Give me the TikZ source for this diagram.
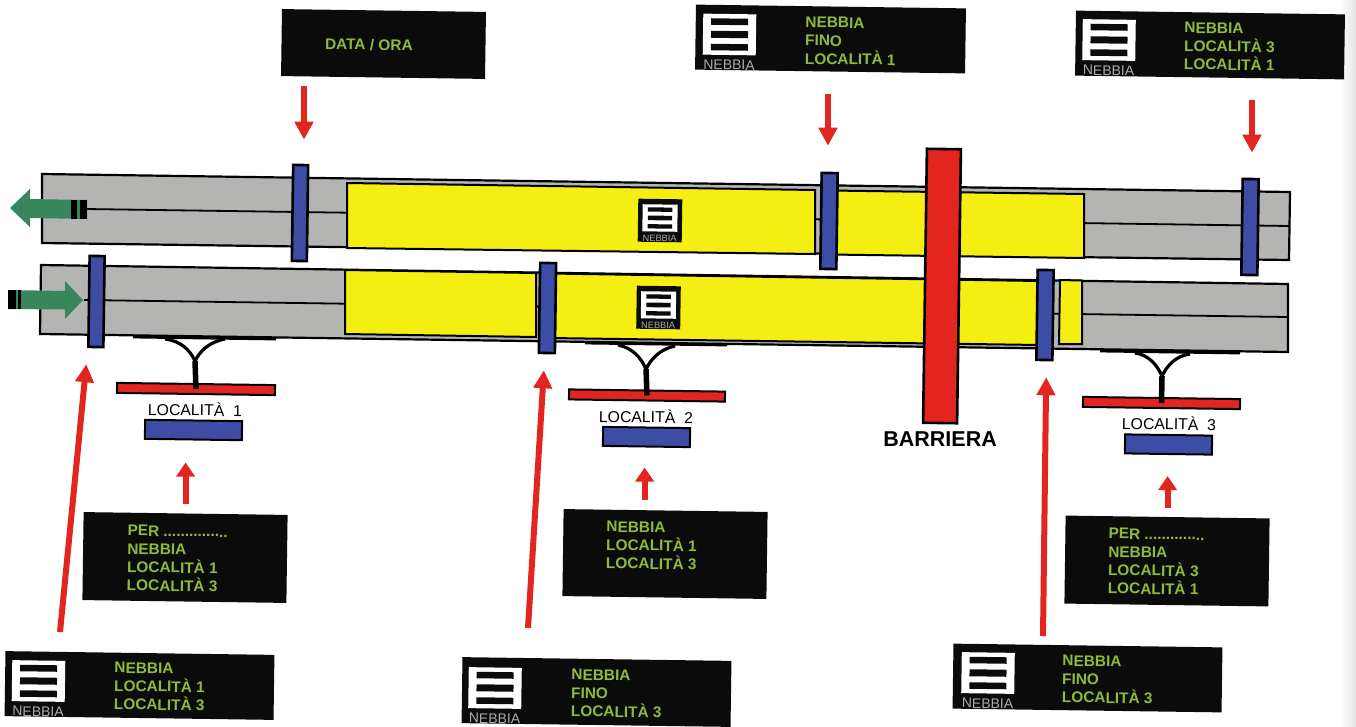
\documentclass[tikz,border=0pt]{standalone}
\usepackage{fontspec}
\setmainfont{Liberation Sans}
\usepackage{xcolor}
\usepackage{tikz}
\usetikzlibrary{arrows.meta,positioning}
\definecolor{roadgray}{HTML}{B4B4B2}
\definecolor{fogyellow}{HTML}{F4EE12}
\definecolor{gantryblue}{HTML}{3D4DA6}
\definecolor{signred}{HTML}{E2251E}
\definecolor{arrowgreen}{HTML}{38875C}
\definecolor{ledgreen}{HTML}{8FBB3C}
\definecolor{panelblack}{HTML}{0B0B0B}

\tikzset{
  fogsign/.pic={
    \fill[white] (-26.5,-20.5) rectangle (26.5,20.5);
    \fill[panelblack] (-18.5,-16) rectangle (18.5,-9.5);
    \fill[panelblack] (-18.5,-3.5) rectangle (18.5,3.5);
    \fill[panelblack] (-18.5,9.5) rectangle (18.5,16);
    \node[text=gray!65, font=\fontsize{14}{14}\selectfont, inner sep=0pt] at (0,30.5) {NEBBIA};
  }
}

\begin{document}
\begin{tikzpicture}[
  x=1pt, y=-1pt,
  road/.style={draw=black, line width=2.2pt, fill=roadgray, line join=miter},
  midline/.style={draw=black, line width=1.8pt},
  fogzone/.style={draw=black, line width=2pt, fill=fogyellow},
  gantry/.style={draw=black, line width=2.6pt, fill=gantryblue, rotate=-.8, inner sep=0pt},
  barrier/.style={draw=black, line width=2.6pt, fill=signred, rotate=-.8, inner sep=0pt, minimum width=34pt, minimum height=274pt},
  panel/.style={fill=panelblack, rotate=-.8, inner sep=0pt},
  paneltext/.style={anchor=west, align=left, rotate=-.8, inner sep=0pt, text=ledgreen, font=\fontsize{15.4}{18.3}\selectfont\bfseries},
  framebox/.style={fill=panelblack, rotate=-.8, inner sep=0pt, minimum width=44pt, minimum height=43pt},
  railbar/.style={draw=black, line width=2pt, fill=signred, rotate=-.8, inner sep=0pt, minimum height=10pt},
  placebox/.style={draw=black, line width=2pt, fill=gantryblue, rotate=-.8, inner sep=0pt, minimum height=19pt},
  placetext/.style={rotate=-.8, inner sep=0pt, font=\fontsize{15.8}{18}\selectfont},
  sideline/.style={draw=black, line width=2.8pt},
  stemline/.style={draw=black, line width=5.5pt},
  legline/.style={draw=black, line width=3.2pt},
  redarr/.style={draw=signred, line width=6pt, -{Triangle[length=18pt,width=18pt]}},
  smallarr/.style={draw=signred, line width=6pt, -{Triangle[length=14pt,width=18pt]}},
  greenarr/.style={fill=arrowgreen}
]
\useasboundingbox (0,0) rectangle (1356,726);
\shade[left color=white, right color=gray!22] (1340,0) rectangle (1356,726);

% carriageways
\draw[road] (42,174) -- (1290,192) -- (1289,260) -- (42,243) -- cycle;
\draw[road] (41,265) -- (1288,284) -- (1288,352) -- (40,334) -- cycle;
\draw[midline] (86,209) -- (1289,226);
\draw[midline] (84,300) -- (1288,317);

% fog zones
\draw[fogzone] (347,183) -- (815,190) -- (815,254) -- (347,248) -- cycle;
\draw[fogzone] (830,190.5) -- (1084,194) -- (1084,258) -- (830,254.5) -- cycle;
\draw[fogzone] (345,270) -- (536,273) -- (536,337) -- (345,334) -- cycle;
\draw[fogzone] (550,273.5) -- (1040,281) -- (1040,345) -- (550,338) -- cycle;
\draw[fogzone] (1060,280) -- (1082,280.5) -- (1082,344) -- (1059,344) -- cycle;

% signs on the carriageway
\node[framebox] (signUp) at (660,220.5) {};
\node[framebox] (signLow) at (658.5,307.5) {};
\pic[scale=.66, rotate=-.8, transform shape] at (660,218) {fogsign};
\pic[scale=.66, rotate=-.8, transform shape] at (658.5,305) {fogsign};

% traffic arrows
\fill[greenarr] (10,208) -- (30,189) -- (30,199) -- (87,200) -- (87,219) -- (30,218) -- (30,227) -- cycle;
\fill[black] (71,199.5) rectangle (77,219);
\fill[black] (80,199.5) rectangle (87,219);
\fill[greenarr] (83,300) -- (65,281) -- (65,291) -- (8,290) -- (8,309) -- (65,309.5) -- (65,319) -- cycle;
\fill[black] (8,290) rectangle (15.5,309);
\fill[black] (18,290) rectangle (21,309);

% gantries
\node[gantry, minimum width=15pt, minimum height=96pt] (gantA) at (300,213) {};
\node[gantry, minimum width=15pt, minimum height=91pt] (gantB) at (96.5,301.5) {};
\node[gantry, minimum width=16pt, minimum height=96pt] (gantC) at (829,221) {};
\node[gantry, minimum width=16pt, minimum height=90pt] (gantD) at (547.5,308) {};
\node[gantry, minimum width=16pt, minimum height=96pt] (gantE) at (1250,227) {};
\node[gantry, minimum width=16pt, minimum height=90pt] (gantF) at (1045,315) {};
\node[barrier] (barr) at (942,286) {};
\node[inner sep=0pt, font=\fontsize{21.5}{24}\selectfont\bfseries, below=7pt of barr.south] (barrtext) {BARRIERA};

% junctions
\node[railbar, minimum width=158pt] (railA) at (196,389) {};
\node[railbar, minimum width=156pt] (railB) at (647,395.5) {};
\node[railbar, minimum width=157pt] (railC) at (1161.5,403) {};
\draw[sideline] (133,337) -- (276,339);
\draw[sideline] (585,343) -- (727,345);
\draw[sideline] (1100,351) -- (1240,353);
\coordinate (forkA) at (195,361);
\coordinate (forkB) at (646,369);
\coordinate (forkC) at (1162,376);
\draw[stemline] (forkA) -- (railA.center);
\draw[stemline] (forkB) -- (railB.center);
\draw[stemline] (forkC) -- (railC.center);
\draw[legline] (forkA) .. controls (190,350) and (181,341) .. (165,339);
\draw[legline] (forkA) .. controls (200,351) and (209,342) .. (225,339);
\draw[legline] (forkB) .. controls (641,358) and (633,348) .. (618,345);
\draw[legline] (forkB) .. controls (651,359) and (660,349) .. (675,346);
\draw[legline] (forkC) .. controls (1157,365) and (1149,355) .. (1135,353);
\draw[legline] (forkC) .. controls (1167,366) and (1175,356) .. (1190,354);

% place names
\node[placetext] (nameA) at (195,409) {LOCALITÀ\ \ 1};
\node[placetext] (nameB) at (646,416) {LOCALITÀ\ \ 2};
\node[placetext] (nameC) at (1169,423) {LOCALITÀ\ \ 3};
\node[placebox, minimum width=97pt] (placeA) at (193.5,430) {};
\node[placebox, minimum width=87pt] (placeB) at (646.5,437) {};
\node[placebox, minimum width=87pt] (placeC) at (1168.5,444.5) {};

% message panels
\node[panel, minimum width=204pt, minimum height=67pt] (panData) at (383.5,44) {};
\node[paneltext] (panDataText) at (325,44) {DATA / ORA};
\node[panel, minimum width=270pt, minimum height=65pt] (panTopA) at (830.5,39) {};
\pic[rotate=-.8, transform shape] at (729.5,34.5) {fogsign};
\node[paneltext] (panTopAText) at (805,40.5) {NEBBIA\\FINO\\LOCALITÀ 1};
\node[panel, minimum width=269pt, minimum height=65pt] (panTopB) at (1210,45) {};
\pic[rotate=-.8, transform shape] at (1109,40) {fogsign};
\node[paneltext] (panTopBText) at (1184,46) {NEBBIA\\LOCALITÀ 3\\LOCALITÀ 1};

\node[panel, minimum width=204pt, minimum height=88pt] (panA) at (185,557.5) {};
\node[paneltext] (panAText) at (127,558) {PER ...............\\NEBBIA\\LOCALITÀ 1\\LOCALITÀ 3};
\node[panel, minimum width=204pt, minimum height=87pt] (panB) at (665,554) {};
\node[paneltext] (panBText) at (606,545) {NEBBIA\\LOCALITÀ 1\\LOCALITÀ 3};
\node[panel, minimum width=204pt, minimum height=88pt] (panC) at (1167,561) {};
\node[paneltext] (panCText) at (1108,561) {PER ..............\\NEBBIA\\LOCALITÀ 3\\LOCALITÀ 1};

\node[panel, minimum width=269pt, minimum height=65pt] (panLowA) at (139.5,685.5) {};
\pic[rotate=-.8, transform shape] at (38.5,681) {fogsign};
\node[paneltext] (panLowAText) at (114,686) {NEBBIA\\LOCALITÀ 1\\LOCALITÀ 3};
\node[panel, minimum width=269pt, minimum height=66pt] (panLowB) at (596.5,692) {};
\pic[rotate=-.8, transform shape] at (495,688) {fogsign};
\node[paneltext] (panLowBText) at (571,693) {NEBBIA\\FINO\\LOCALITÀ 3};
\node[panel, minimum width=269pt, minimum height=65pt] (panLowC) at (1087.5,678) {};
\pic[rotate=-.8, transform shape] at (988,673) {fogsign};
\node[paneltext] (panLowCText) at (1062,679) {NEBBIA\\FINO\\LOCALITÀ 3};

% arrows from the panels
\coordinate (tailA) at (304,86);
\coordinate (tailB) at (828,94);
\coordinate (tailC) at (1252,100);
\coordinate (tailD) at (60,632);
\coordinate (tailE) at (528,628);
\coordinate (tailF) at (1043,636);
\draw[redarr, shorten >=24pt] (tailA) -- (tailA |- gantA.north);
\draw[redarr, shorten >=26pt] (tailB) -- (tailB |- gantC.north);
\draw[redarr, shorten >=25pt] (tailC) -- (tailC |- gantE.north);
\draw[redarr, shorten >=16pt] (tailD) -- ([xshift=-8pt]gantB.south);
\draw[redarr, shorten >=16pt] (tailE) -- ([xshift=-2pt]gantD.south);
\draw[redarr, shorten >=16pt] (tailF) -- ([xshift=2pt]gantF.south);
\draw[smallarr, shorten <=9pt, shorten >=22pt] (panA.north) -- (panA.north |- placeA.south);
\draw[smallarr, shorten <=10pt, shorten >=20pt] ([xshift=-21pt]panB.north) -- ([xshift=-21pt]panB.north |- placeB.south);
\draw[smallarr, shorten <=9pt, shorten >=21pt] (panC.north) -- (panC.north |- placeC.south);
\end{tikzpicture}
\end{document}
